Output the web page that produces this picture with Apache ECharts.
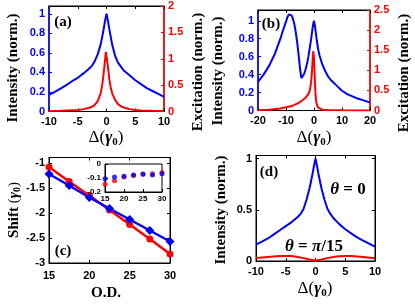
<!DOCTYPE html>
<html><head><meta charset="utf-8">
<script src="https://cdn.jsdelivr.net/npm/echarts@6/dist/echarts.min.js"></script>
<style>html,body{margin:0;padding:0;background:#fff}#c{width:415px;height:304px}</style>
</head><body><div id="c"></div>
<script>
// ---- Data ----
const aX = [-10,-9,-8,-7,-6,-5,-4,-3,-2.5,-2,-1.5,-1,-0.5,-0.25,0,0.25,0.5,1,1.5,2,2.5,3,4,5,6,7,8,9,10];
const aBlue = [0.17,0.2,0.235,0.27,0.31,0.345,0.39,0.44,0.47,0.52,0.59,0.69,0.84,0.93,1.0,0.93,0.84,0.68,0.57,0.5,0.46,0.42,0.37,0.32,0.28,0.24,0.21,0.18,0.15];
const aRedX = [-10,-8,-6,-5,-4,-3,-2.5,-2,-1.5,-1,-0.75,-0.5,-0.25,-0.1,0,0.25,0.5,0.75,1,1.5,2,2.5,3,4,5,6,8,10];
const aRed = [0.01,0.015,0.025,0.03,0.045,0.07,0.09,0.13,0.2,0.35,0.5,0.72,0.98,1.13,1.12,0.85,0.6,0.45,0.34,0.22,0.14,0.1,0.075,0.045,0.03,0.02,0.012,0.008];

const bX = [-20,-18,-16,-14,-12,-11,-10,-9.5,-9,-8.5,-8,-7.5,-7,-6.5,-6,-5.5,-5,-4.5,-4,-3.5,-3,-2.5,-2,-1.5,-1,-0.5,-0.25,0,0.25,0.5,1,1.5,2,3,4,5,6,8,10,12,15,18,20];
const bBlue = [0.32,0.4,0.5,0.63,0.8,0.9,0.99,1.04,1.07,1.08,1.06,1.02,0.96,0.87,0.76,0.62,0.47,0.36,0.36,0.41,0.46,0.52,0.6,0.7,0.8,0.92,0.97,1.0,0.96,0.9,0.78,0.68,0.61,0.51,0.44,0.38,0.34,0.28,0.22,0.18,0.14,0.11,0.09];
const bRedX = [-20,-16,-12,-10,-8,-6,-5,-4,-3,-2.5,-2,-1.5,-1.25,-1,-0.75,-0.5,-0.25,0,0.25,0.5,0.75,1,1.5,2,3,5,10,15,20];
const bRed = [0.01,0.02,0.05,0.08,0.11,0.17,0.21,0.26,0.32,0.36,0.41,0.5,0.6,0.74,0.95,1.25,1.48,1.3,0.85,0.45,0.25,0.15,0.07,0.04,0.02,0.01,0.005,0.003,0.002];

const cX = [15,17.5,20,22.5,25,27.5,30];
const cRed = [-1.08,-1.37,-1.65,-1.94,-2.23,-2.52,-2.82];
const cBlue = [-1.22,-1.45,-1.69,-1.91,-2.13,-2.35,-2.57];
const insetRed = [-0.145,-0.12,-0.093,-0.083,-0.072,-0.07,-0.06];
const insetBlue = [-0.105,-0.093,-0.088,-0.078,-0.073,-0.078,-0.07];

const dX = [-10,-9,-8,-7,-6,-5,-4,-3,-2.5,-2,-1.5,-1,-0.5,-0.25,0,0.25,0.5,1,1.5,2,2.5,3,4,5,6,7,8,9,10];
const dBlue = [0.16,0.19,0.22,0.26,0.3,0.34,0.38,0.43,0.46,0.51,0.6,0.71,0.85,0.93,1.0,0.93,0.85,0.71,0.6,0.51,0.46,0.42,0.36,0.31,0.27,0.23,0.2,0.17,0.14];
const dRedX = [-10,-8,-6,-5,-4,-3,-2,-1,0,1,2,3,4,5,6,8,10];
const dRed = [0.03,0.04,0.048,0.05,0.048,0.04,0.028,0.014,0.002,0.014,0.028,0.04,0.047,0.05,0.048,0.04,0.028];

const ticksA_L = [0,0.2,0.4,0.6,0.8,1];
const ticksA_R = [0,0.5,1,1.5,2];
const ticksB_L = [0,0.2,0.4,0.6,0.8,1];
const ticksB_R = [0,0.5,1,1.5,2,2.5];
const ticksC_Y = [-3,-2.5,-2,-1.5,-1];
const ticksD_Y = [0,0.5,1];

// ---- Styling ----
const BLUE = '#0000ff', RED = '#ff0000';
const serif = "'Liberation Serif','Times New Roman',serif";
const sans = "'Liberation Sans',Arial,sans-serif";
const pairs = (xs, ys) => xs.map((x, i) => [x, ys[i]]);

function xAx(g, min, max, interval, showLabel, pos, fs, margin) {
  return {
    gridIndex: g, type: 'value', min, max, interval, position: pos || 'bottom',
    axisLine: { show: true, onZero: false, lineStyle: { color: '#000', width: 1 } },
    axisTick: { show: true, inside: true, length: 3, lineStyle: { color: '#000' } },
    splitLine: { show: false },
    axisLabel: { show: showLabel, margin: margin || 4, color: '#000', fontFamily: sans, fontWeight: 'bold', fontSize: fs || 11 }
  };
}
function yAx(g, min, max, interval, color, pos, ticks, showLabel, fs, width) {
  const o = {
    gridIndex: g, type: 'value', min, max, interval, position: pos,
    axisLine: { show: true, onZero: false, lineStyle: { color, width: width || 1 } },
    axisTick: { show: true, inside: true, length: 3, lineStyle: { color } },
    splitLine: { show: false },
    axisLabel: { show: showLabel, margin: 4, color, fontFamily: sans, fontWeight: 'bold', fontSize: fs || 11 }
  };
  if (ticks) { o.axisLabel.customValues = ticks; o.axisTick.customValues = ticks; }
  return o;
}
function line(xi, yi, data, color, w) {
  return { type: 'line', xAxisIndex: xi, yAxisIndex: yi, data, showSymbol: false, symbol: 'none',
    lineStyle: { color, width: w || 2 }, itemStyle: { color }, animation: false };
}
function txt(x, y, rich, text, rot) {
  return { type: 'text', x, y, rotation: rot || 0, z: 100,
    style: { text, rich, align: 'center', verticalAlign: 'middle', fill: '#000' } };
}
const yLabRich = {
  b: { fontFamily: serif, fontWeight: 'bold', fontSize: 15, fill: '#000' }
};
const deltaRich = {
  d: { fontFamily: serif, fontSize: 17, fill: '#000' },
  g: { fontFamily: serif, fontWeight: 'bold', fontStyle: 'italic', fontSize: 17, fill: '#000' },
  s: { fontFamily: serif, fontWeight: 'bold', fontSize: 11, fill: '#000', padding: [8, 0, 0, 0] }
};
const shiftRich = {
  b: { fontFamily: serif, fontWeight: 'bold', fontSize: 15, fill: '#000' },
  d: { fontFamily: serif, fontSize: 15, fill: '#000' },
  g: { fontFamily: serif, fontWeight: 'bold', fontStyle: 'italic', fontSize: 15, fill: '#000' },
  s: { fontFamily: serif, fontWeight: 'bold', fontSize: 10, fill: '#000', padding: [7, 0, 0, 0] }
};
const thRich = {
  t: { fontFamily: serif, fontWeight: 'bold', fontStyle: 'italic', fontSize: 17, fill: '#000' },
  n: { fontFamily: serif, fontWeight: 'bold', fontSize: 17, fill: '#000' }
};
const DELTA = '{d|Δ(}{g|γ}{s|0}{d|)}';
const gridStyle = { show: true, borderColor: '#000', borderWidth: 1, backgroundColor: 'transparent' };

const option = {
  animation: false,
  backgroundColor: '#fff',
  grid: [
    Object.assign({ left: 49, top: 6, width: 115, height: 105.5 }, gridStyle),
    Object.assign({ left: 258, top: 10, width: 112, height: 100.5 }, gridStyle),
    Object.assign({ left: 49, top: 157.5, width: 121, height: 105.5 }, gridStyle),
    Object.assign({ left: 256, top: 155.5, width: 119, height: 105.5 }, gridStyle),
    { show: true, borderColor: '#000', borderWidth: 1, backgroundColor: '#fff', left: 105, top: 164, width: 57, height: 28, z: 5 }
  ],
  xAxis: [
    xAx(0, -10, 10, 5, true, 'bottom', 11, 5),   // 0
    xAx(0, -10, 10, 5, false, 'top'),            // 1
    xAx(1, -20, 20, 10, true, 'bottom', 11, 5),  // 2
    xAx(1, -20, 20, 10, false, 'top'),           // 3
    xAx(2, 15, 30, 5, true, 'bottom', 11, 7),    // 4
    xAx(2, 15, 30, 5, false, 'top'),             // 5
    xAx(3, -10, 10, 5, true, 'bottom', 11, 5),   // 6
    xAx(3, -10, 10, 5, false, 'top'),            // 7
    Object.assign(xAx(4, 15, 30, 5, true, 'bottom', 8, 3), { z: 6 }) // 8
  ],
  yAxis: [
    yAx(0, 0, 1.08, 0.2, BLUE, 'left', ticksA_L, true, 11, 1.5),     // 0
    yAx(0, 0, 2, 0.5, RED, 'right', ticksA_R, true, 11, 1.5),        // 1
    yAx(1, 0, 1.12, 0.2, BLUE, 'left', ticksB_L, true, 11, 1.5),     // 2
    yAx(1, 0, 2.5, 0.5, RED, 'right', ticksB_R, true, 11, 1.5),      // 3
    yAx(2, -3, -0.89, 0.5, '#000', 'left', ticksC_Y, true, 11),      // 4
    yAx(2, -3, -0.89, 0.5, '#000', 'right', ticksC_Y, false, 11),    // 5
    yAx(3, 0, 1.03, 0.5, '#000', 'left', ticksD_Y, true, 11),        // 6
    yAx(3, 0, 1.03, 0.5, '#000', 'right', ticksD_Y, false, 11),      // 7
    Object.assign(yAx(4, -0.2, 0, 0.1, '#000', 'left', null, true, 8), { z: 6 }) // 8
  ],
  series: [
    line(0, 0, pairs(aX, aBlue), BLUE),
    line(0, 1, pairs(aRedX, aRed), RED),
    line(2, 2, pairs(bX, bBlue), BLUE),
    line(2, 3, pairs(bRedX, bRed), RED),
    Object.assign(line(4, 4, pairs(cX, cRed), RED, 2.5), { showSymbol: true, symbol: 'circle', symbolSize: 7 }),
    Object.assign(line(4, 4, pairs(cX, cBlue), BLUE, 2.5), { showSymbol: true, symbol: 'diamond', symbolSize: 9 }),
    line(6, 6, pairs(dX, dBlue), BLUE),
    line(6, 6, pairs(dRedX, dRed), RED),
    { type: 'scatter', xAxisIndex: 8, yAxisIndex: 8, data: pairs(cX, insetRed), symbol: 'circle', symbolSize: 5, itemStyle: { color: RED }, z: 7, animation: false },
    { type: 'scatter', xAxisIndex: 8, yAxisIndex: 8, data: pairs(cX, insetBlue), symbol: 'circle', symbolSize: 5, itemStyle: { color: BLUE }, z: 7, animation: false }
  ],
  graphic: [
    txt(13, 68, yLabRich, '{b|Intensity (norm.)}', Math.PI / 2),
    txt(198, 72, yLabRich, '{b|Excitation (norm.)}', Math.PI / 2),
    txt(218, 71, yLabRich, '{b|Intensity (norm.)}', Math.PI / 2),
    txt(404, 73, yLabRich, '{b|Excitation (norm.)}', Math.PI / 2),
    txt(14, 210, shiftRich, '{b|Shift }{d|(}{g|γ}{s|0}{d|)}', Math.PI / 2),
    txt(221, 210, yLabRich, '{b|Intensity (norm.)}', Math.PI / 2),
    txt(106, 138, deltaRich, DELTA),
    txt(314, 138, deltaRich, DELTA),
    txt(315, 289, deltaRich, DELTA),
    txt(106, 293, yLabRich, '{b|O.D.}'),
    txt(63, 22, yLabRich, '{b|(a)}'),
    txt(271, 24, yLabRich, '{b|(b)}'),
    txt(63, 251, yLabRich, '{b|(c)}'),
    txt(269, 172, yLabRich, '{b|(d)}'),
    txt(348, 190, thRich, '{t|θ}{n| = 0}'),
    txt(314, 247, thRich, '{t|θ}{n| = }{t|π}{n|/15}')
  ]
};
const chart = echarts.init(document.getElementById('c'), null, { renderer: 'canvas' });
chart.setOption(option);
</script></body></html>
